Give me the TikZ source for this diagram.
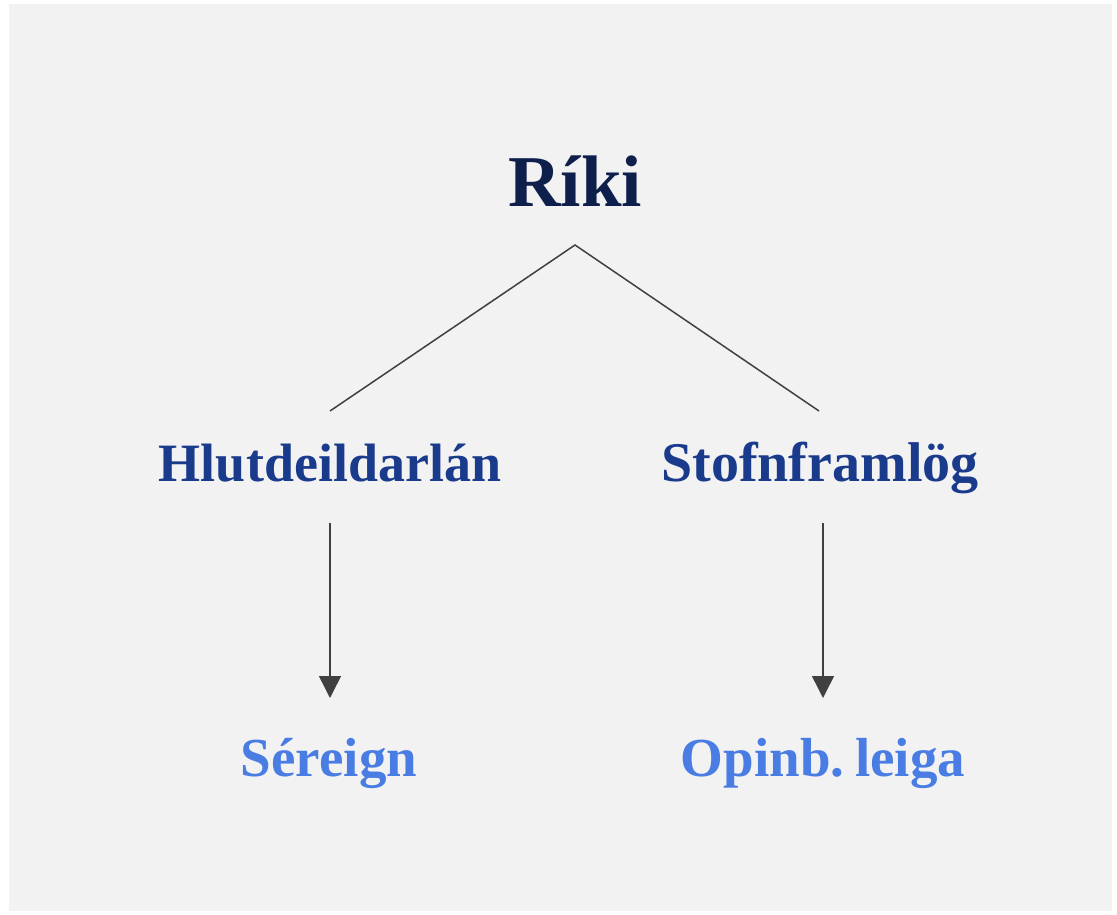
\documentclass[tikz,border=0pt]{standalone}
\usepackage{fontspec}
\setmainfont{Liberation Serif}
\usetikzlibrary{arrows.meta}
\definecolor{bgcol}{HTML}{F2F2F2}
\definecolor{topcol}{HTML}{0E1F4C}
\definecolor{midcol}{HTML}{1A3B8C}
\definecolor{botcol}{HTML}{4A7DE3}
\definecolor{linecol}{HTML}{404040}
\tikzset{
  toplabel/.style={anchor=base, inner sep=0pt, font=\fontsize{73}{80}\selectfont\bfseries, text=topcol},
  midlabel/.style={anchor=base, inner sep=0pt, font=\fontsize{54}{60}\selectfont\bfseries, text=midcol},
  botlabel/.style={anchor=base, inner sep=0pt, font=\fontsize{55}{60}\selectfont\bfseries, text=botcol},
  branch/.style={draw=linecol, line width=1.5pt},
  arrowline/.style={draw=linecol, line width=1.5pt, -{Triangle[length=22pt,width=22pt]}, fill=linecol},
}
\begin{document}
\begin{tikzpicture}[x=1pt,y=-1pt]
\useasboundingbox (0,0) rectangle (1117,915);
\fill[white] (0,0) rectangle (1117,915);
\fill[bgcol] (9,4) rectangle (1112,911);
\node[toplabel] (riki) at (575,207) {Ríki};
\node[midlabel] (hlut) at (330,481) {Hlutdeildarlán};
\node[midlabel, font=\fontsize{56}{60}\selectfont\bfseries] (stofn) at (820,481) {Stofnframlög};
\node[botlabel] (sereign) at (329,776) {Séreign};
\node[botlabel] (opinb) at (823,776) {Opinb.\kern-3pt\ leiga};
\coordinate (apex) at (575,245);
\coordinate (hlutTop) at (330,411);
\coordinate (stofnTop) at (819,411);
\coordinate (hlutBot) at (330,523);
\coordinate (stofnBot) at (823,523);
\coordinate (serTop) at (330,698);
\coordinate (opTop) at (823,698);
\draw[branch] (hlutTop) -- (apex) -- (stofnTop);
\draw[arrowline] (hlutBot) -- (serTop);
\draw[arrowline] (stofnBot) -- (opTop);
\end{tikzpicture}
\end{document}
